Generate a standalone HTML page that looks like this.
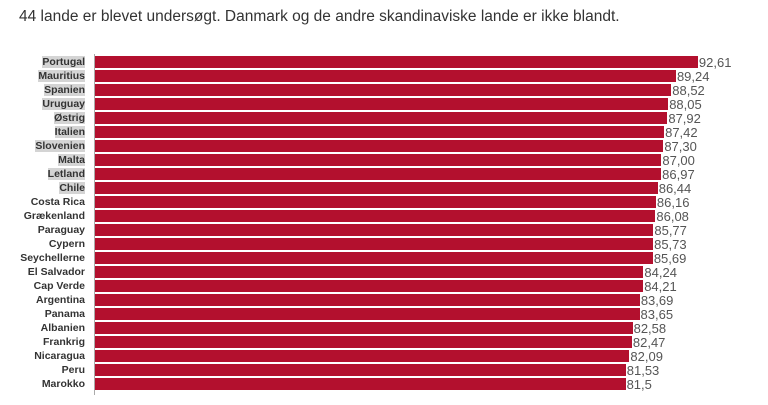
<!DOCTYPE html>
<html><head><meta charset="utf-8"><style>
body{margin:0;width:768px;height:405px;background:#fff;position:relative;overflow:hidden;font-family:"Liberation Sans",sans-serif}
.t{position:absolute;left:19px;top:8px;font-size:15.5px;color:#333;white-space:nowrap}
.l{position:absolute;right:683px;font-size:10.5px;font-weight:bold;color:#333;line-height:12px;white-space:nowrap}
.l.h{background:#d4d4d4}
.b{position:absolute;left:95px;height:12px;background:#b3102e}
.v{position:absolute;font-size:13px;color:#555;line-height:12px}
.ax{position:absolute;left:94px;top:54px;width:1px;height:341px;background:#aaa}
</style></head><body>
<div class="t">44 lande er blevet undersøgt. Danmark og de andre skandinaviske lande er ikke blandt.</div>
<div class="ax"></div>
<div id="c"></div>
<script>
var d=[["Portugal","92,61"],["Mauritius","89,24"],["Spanien","88,52"],["Uruguay","88,05"],["Østrig","87,92"],["Italien","87,42"],["Slovenien","87,30"],["Malta","87,00"],["Letland","86,97"],["Chile","86,44"],["Costa Rica","86,16"],["Grækenland","86,08"],["Paraguay","85,77"],["Cypern","85,73"],["Seychellerne","85,69"],["El Salvador","84,24"],["Cap Verde","84,21"],["Argentina","83,69"],["Panama","83,65"],["Albanien","82,58"],["Frankrig","82,47"],["Nicaragua","82,09"],["Peru","81,53"],["Marokko","81,5"]];
var h="";
d.forEach(function(r,i){var y=56+i*14;var w=parseFloat(r[1].replace(",","."))*6.51;
h+='<div class="l'+(i<10?' h':'')+'" style="top:'+y+'px">'+r[0]+'</div>';
h+='<div class="b" style="top:'+y+'px;width:'+w+'px"></div>';
h+='<div class="v" style="top:'+(y+1)+'px;left:'+(95+w+1)+'px">'+r[1]+'</div>';});
document.getElementById("c").innerHTML=h;
</script>
</body></html>
